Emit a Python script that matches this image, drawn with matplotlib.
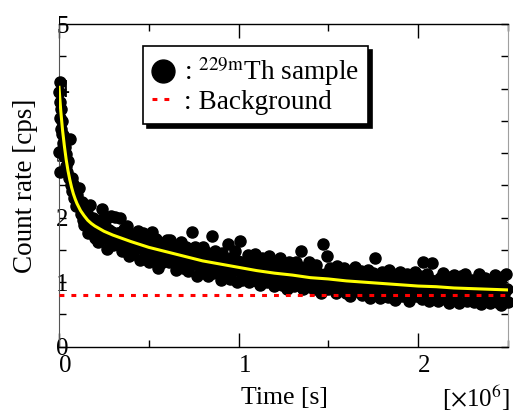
import matplotlib
matplotlib.use('Agg')
import matplotlib.pyplot as plt
from matplotlib.lines import Line2D
from matplotlib.ticker import MultipleLocator

plt.rcParams['font.family'] = ['Liberation Serif', 'DejaVu Serif']
plt.rcParams['mathtext.fontset'] = 'stix'

# measured count rate (time in 1e6 s, rate in cps)
time_e6 = [
    0.001, 0.002, 0.003, 0.004, 0.006, 0.008, 0.010, 0.012, 0.015, 0.018,
    0.021, 0.025, 0.029, 0.033, 0.037, 0.041, 0.045, 0.050, 0.055, 0.060,
    0.065, 0.070, 0.075, 0.080, 0.085, 0.090, 0.095, 0.100,
    0.11, 0.12, 0.13, 0.14, 0.15, 0.16, 0.17, 0.18, 0.19, 0.20,
    0.21, 0.22, 0.23, 0.24, 0.25, 0.26, 0.27, 0.28, 0.29, 0.30,
    0.31, 0.32, 0.33, 0.34, 0.35, 0.36, 0.37, 0.38, 0.39, 0.40,
    0.41, 0.42, 0.43, 0.44, 0.45, 0.46, 0.47, 0.48, 0.49, 0.50,
    0.51, 0.52, 0.53, 0.54, 0.55, 0.56, 0.57, 0.58, 0.59, 0.60,
    0.61, 0.62, 0.63, 0.64, 0.65, 0.66, 0.67, 0.68, 0.69, 0.70,
    0.71, 0.72, 0.73, 0.74, 0.75, 0.76, 0.77, 0.78, 0.79, 0.80,
    0.81, 0.82, 0.83, 0.84, 0.85, 0.86, 0.87, 0.88, 0.89, 0.90,
    0.91, 0.92, 0.93, 0.94, 0.95, 0.96, 0.97, 0.98, 0.99, 1.00,
    1.01, 1.02, 1.03, 1.04, 1.05, 1.06, 1.07, 1.08, 1.09, 1.10,
    1.11, 1.12, 1.13, 1.14, 1.15, 1.16, 1.17, 1.18, 1.19, 1.20,
    1.21, 1.22, 1.23, 1.24, 1.25, 1.26, 1.27, 1.28, 1.29, 1.30,
    1.31, 1.32, 1.33, 1.34, 1.35, 1.36, 1.37, 1.38, 1.39, 1.40,
    1.41, 1.42, 1.43, 1.44, 1.45, 1.46, 1.47, 1.48, 1.49, 1.50,
    1.51, 1.52, 1.53, 1.54, 1.55, 1.56, 1.57, 1.58, 1.59, 1.60,
    1.61, 1.62, 1.63, 1.64, 1.65, 1.66, 1.67, 1.68, 1.69, 1.70,
    1.71, 1.72, 1.73, 1.74, 1.75, 1.76, 1.77, 1.78, 1.79, 1.80,
    1.81, 1.82, 1.83, 1.84, 1.85, 1.86, 1.87, 1.88, 1.89, 1.90,
    1.91, 1.92, 1.93, 1.94, 1.95, 1.96, 1.97, 1.98, 1.99, 2.00,
    2.01, 2.02, 2.03, 2.04, 2.05, 2.06, 2.07, 2.08, 2.09, 2.10,
    2.11, 2.12, 2.13, 2.14, 2.15, 2.16, 2.17, 2.18, 2.19, 2.20,
    2.21, 2.22, 2.23, 2.24, 2.25, 2.26, 2.27, 2.28, 2.29, 2.30,
    2.31, 2.32, 2.33, 2.34, 2.35, 2.36, 2.37, 2.38, 2.39, 2.40,
    2.41, 2.42, 2.43, 2.44, 2.45, 2.46, 2.47, 2.48, 2.49, 2.50,
]
count_rate = [
    3.95, 3.02, 4.11, 2.70, 3.80, 3.55, 3.68, 3.38, 3.30, 3.50,
    3.15, 3.28, 2.95, 3.10, 2.80, 2.98, 2.70, 2.88, 2.62, 3.22,
    2.50, 2.62, 2.42, 2.52, 2.30, 2.45, 2.18, 2.35,
    2.46, 2.06, 2.24, 1.88, 2.11, 1.76, 2.19, 1.83, 1.99, 1.69,
    1.94, 1.62, 1.96, 2.14, 1.69, 1.98, 1.52, 1.81, 2.03, 1.58,
    2.01, 1.59, 1.76, 1.99, 1.48, 1.82, 1.60, 1.87, 1.40, 1.73,
    1.44, 1.73, 1.56, 1.80, 1.34, 1.66, 1.76, 1.46, 1.69, 1.32,
    1.60, 1.78, 1.38, 1.67, 1.22, 1.53, 1.29, 1.60, 1.39, 1.65,
    1.31, 1.65, 1.38, 1.54, 1.19, 1.56, 1.30, 1.63, 1.22, 1.45,
    1.54, 1.18, 1.41, 1.77, 1.28, 1.54, 1.10, 1.44, 1.20, 1.55,
    1.23, 1.46, 1.10, 1.37, 1.72, 1.14, 1.49, 1.24, 1.40, 1.04,
    1.45, 1.15, 1.34, 1.59, 1.05, 1.37, 1.18, 1.48, 1.01, 1.28,
    1.64, 1.04, 1.31, 1.13, 1.42, 1.00, 1.35, 1.16, 1.43, 1.02,
    1.30, 0.95, 1.37, 1.11, 1.21, 1.01, 1.40, 1.05, 1.29, 0.94,
    1.32, 1.05, 1.37, 0.95, 1.18, 1.27, 0.90, 1.31, 0.99, 1.19,
    0.94, 1.32, 1.05, 1.23, 1.49, 0.89, 1.18, 0.98, 1.32, 0.92,
    1.19, 0.89, 1.27, 0.98, 1.11, 0.83, 1.59, 1.13, 1.40, 0.90,
    1.22, 0.94, 1.10, 0.83, 1.25, 0.98, 1.15, 0.88, 1.22, 0.84,
    1.12, 0.79, 1.17, 0.95, 1.23, 0.86, 1.05, 1.18, 0.80, 1.12,
    0.87, 1.19, 0.75, 1.07, 1.14, 1.37, 0.80, 1.04, 0.76, 1.16,
    0.91, 1.11, 0.77, 1.19, 0.85, 1.01, 0.72, 1.12, 0.88, 1.16,
    0.78, 1.05, 0.91, 1.13, 0.71, 1.07, 0.85, 1.16, 0.78, 1.00,
    1.10, 0.74, 1.31, 0.85, 1.13, 0.71, 1.03, 1.30, 0.79, 0.97,
    0.71, 1.06, 0.86, 1.14, 0.74, 1.00, 0.67, 1.08, 0.81, 1.11,
    0.77, 0.97, 0.67, 1.09, 0.87, 1.13, 0.71, 1.00, 0.74, 1.04,
    0.70, 1.02, 0.82, 1.12, 0.66, 0.93, 1.07, 0.73, 0.99, 0.67,
    1.05, 0.79, 1.11, 0.69, 0.97, 0.65, 1.08, 0.82, 1.12, 0.70,
]

# intermediate measurements (between the ones above)
mid_time = [
    0.115, 0.135, 0.155, 0.175, 0.195, 0.215, 0.235, 0.255, 0.275, 0.295,
    0.315, 0.335, 0.355, 0.375, 0.395, 0.415, 0.435, 0.455, 0.475, 0.495,
    0.515, 0.535, 0.555, 0.575, 0.595, 0.615, 0.635, 0.655, 0.675, 0.695,
    0.715, 0.735, 0.755, 0.775, 0.795, 0.815, 0.835, 0.855, 0.875, 0.895,
    0.915, 0.935, 0.955, 0.975, 0.995, 1.015, 1.035, 1.055, 1.075, 1.095,
    1.115, 1.135, 1.155, 1.175, 1.195, 1.215, 1.235, 1.255, 1.275, 1.295,
    1.315, 1.335, 1.355, 1.375, 1.395, 1.415, 1.435, 1.455, 1.475, 1.495,
    1.515, 1.535, 1.555, 1.575, 1.595, 1.615, 1.635, 1.655, 1.675, 1.695,
    1.715, 1.735, 1.755, 1.775, 1.795, 1.815, 1.835, 1.855, 1.875, 1.895,
    1.915, 1.935, 1.955, 1.975, 1.995, 2.015, 2.035, 2.055, 2.075, 2.095,
    2.115, 2.135, 2.155, 2.175, 2.195, 2.215, 2.235, 2.255, 2.275, 2.295,
    2.315, 2.335, 2.355, 2.375, 2.395, 2.415, 2.435, 2.455, 2.475, 2.495,
]
mid_rate = [
    2.18, 1.96, 2.07, 1.89, 1.95, 1.75, 1.84, 1.87, 1.70, 1.78,
    1.65, 1.76, 1.65, 1.75, 1.54, 1.65, 1.67, 1.53, 1.57, 1.47,
    1.62, 1.48, 1.56, 1.38, 1.50, 1.53, 1.37, 1.45, 1.38, 1.46,
    1.34, 1.47, 1.28, 1.39, 1.32, 1.39, 1.22, 1.35, 1.37, 1.24,
    1.30, 1.17, 1.31, 1.22, 1.33, 1.16, 1.22, 1.12, 1.26, 1.20,
    1.08, 1.21, 1.24, 1.10, 1.16, 1.07, 1.22, 1.09, 1.16, 1.03,
    1.16, 1.07, 1.00, 1.15, 1.10, 1.01, 1.16, 1.02, 1.06, 0.98,
    1.12, 0.97, 1.05, 0.92, 1.07, 1.11, 0.98, 1.07, 0.92, 1.01,
    0.95, 1.06, 0.91, 1.01, 1.07, 0.92, 0.99, 0.88, 1.02, 0.95,
    1.05, 0.92, 1.00, 0.87, 0.92, 1.02, 0.88, 0.97, 0.83, 1.00,
    0.86, 1.01, 0.91, 0.97, 0.83, 0.93, 0.98, 0.87, 0.93, 0.81,
    0.94, 0.80, 0.98, 0.86, 0.95, 0.84, 0.90, 0.97, 0.81, 0.90,
]

# fitted decay curve (yellow)
fit_time = [0.00, 0.01, 0.02, 0.03, 0.04, 0.05, 0.06, 0.07, 0.08, 0.09,
            0.10, 0.12, 0.14, 0.16, 0.18, 0.20, 0.25, 0.30, 0.35, 0.40,
            0.50, 0.60, 0.70, 0.80, 0.90, 1.00, 1.10, 1.20, 1.30, 1.40,
            1.50, 1.60, 1.70, 1.80, 1.90, 2.00, 2.10, 2.20, 2.30, 2.40, 2.50]
fit_rate = [4.02, 3.65, 3.35, 3.11, 2.90, 2.73, 2.59, 2.47, 2.37, 2.29,
            2.22, 2.11, 2.03, 1.96, 1.91, 1.87, 1.79, 1.73, 1.68, 1.63,
            1.54, 1.47, 1.40, 1.33, 1.28, 1.23, 1.18, 1.14, 1.11, 1.07,
            1.05, 1.02, 1.00, 0.98, 0.96, 0.94, 0.93, 0.91, 0.90, 0.89, 0.88]

bg_level = 0.8

fig = plt.figure(figsize=(5.13, 4.12), dpi=100)
ax = fig.add_axes([0.115, 0.1585, 0.875, 0.783])

dots = (0, (1.6, 2.3))
ax.plot(time_e6, count_rate, 'o', ms=8, color='black', clip_on=False, zorder=3)
ax.plot(mid_time, mid_rate, 'o', ms=8, color='black', clip_on=False, zorder=3)
ax.axhline(bg_level, color='red', lw=2.2, ls=dots, zorder=4)
ax.plot(fit_time, fit_rate, '-', color='#ffff00', lw=2.2, zorder=5)

ax.set_xlim(0, 2.5)
ax.set_ylim(0, 5)
ax.set_xticks([0, 1, 2])
ax.xaxis.set_minor_locator(MultipleLocator(0.5))
ax.yaxis.set_major_locator(MultipleLocator(1))
ax.yaxis.set_minor_locator(MultipleLocator(0.5))
ax.tick_params(axis='x', which='major', direction='in', length=10, width=1, top=True, pad=6, labelsize=18)
ax.tick_params(axis='x', which='minor', direction='in', length=5, width=1, top=True)
ax.tick_params(axis='y', which='both', direction='in', length=5, width=1, right=True, pad=-7, labelsize=18)
plt.setp(ax.get_xticklabels(), ha='left')

ax.spines['top'].set_linewidth(1.0)
ax.spines['bottom'].set_linewidth(1.0)
ax.spines['left'].set_color('#555555')
ax.spines['right'].set_color('#a0a0a0')

h1 = Line2D([], [], ls='none', marker='o', ms=16.5, color='black')
h2 = Line2D([], [], color='red', lw=2.2, ls=dots)
leg = ax.legend([h1, h2], [r': $^{\rm 229m}$Th sample', ': Background'],
                loc='upper left', bbox_to_anchor=(0.187, 0.932), borderaxespad=0,
                fontsize=19.6, fancybox=False, framealpha=1, edgecolor='black',
                shadow={'ox': 2.8, 'oy': -2.8, 'color': 'black', 'alpha': 1},
                handlelength=0.8, handletextpad=0.35, borderpad=0.35, labelspacing=0.05)
leg.get_frame().set_linewidth(1.2)
leg.set_zorder(10)

fig.text(26 / 513, 1 - 185.5 / 412, 'Count rate [cps]', rotation=90, ha='center', va='center', fontsize=19.5)
fig.text(284 / 513, 1 - 398 / 412, 'Time [s]', ha='center', va='center', fontsize=18.5)
fig.text(510 / 513, 1 - 398 / 412, r'[$\times$10$^{6}$]', ha='right', va='center', fontsize=18)

fig.savefig('out.png', dpi=100)
